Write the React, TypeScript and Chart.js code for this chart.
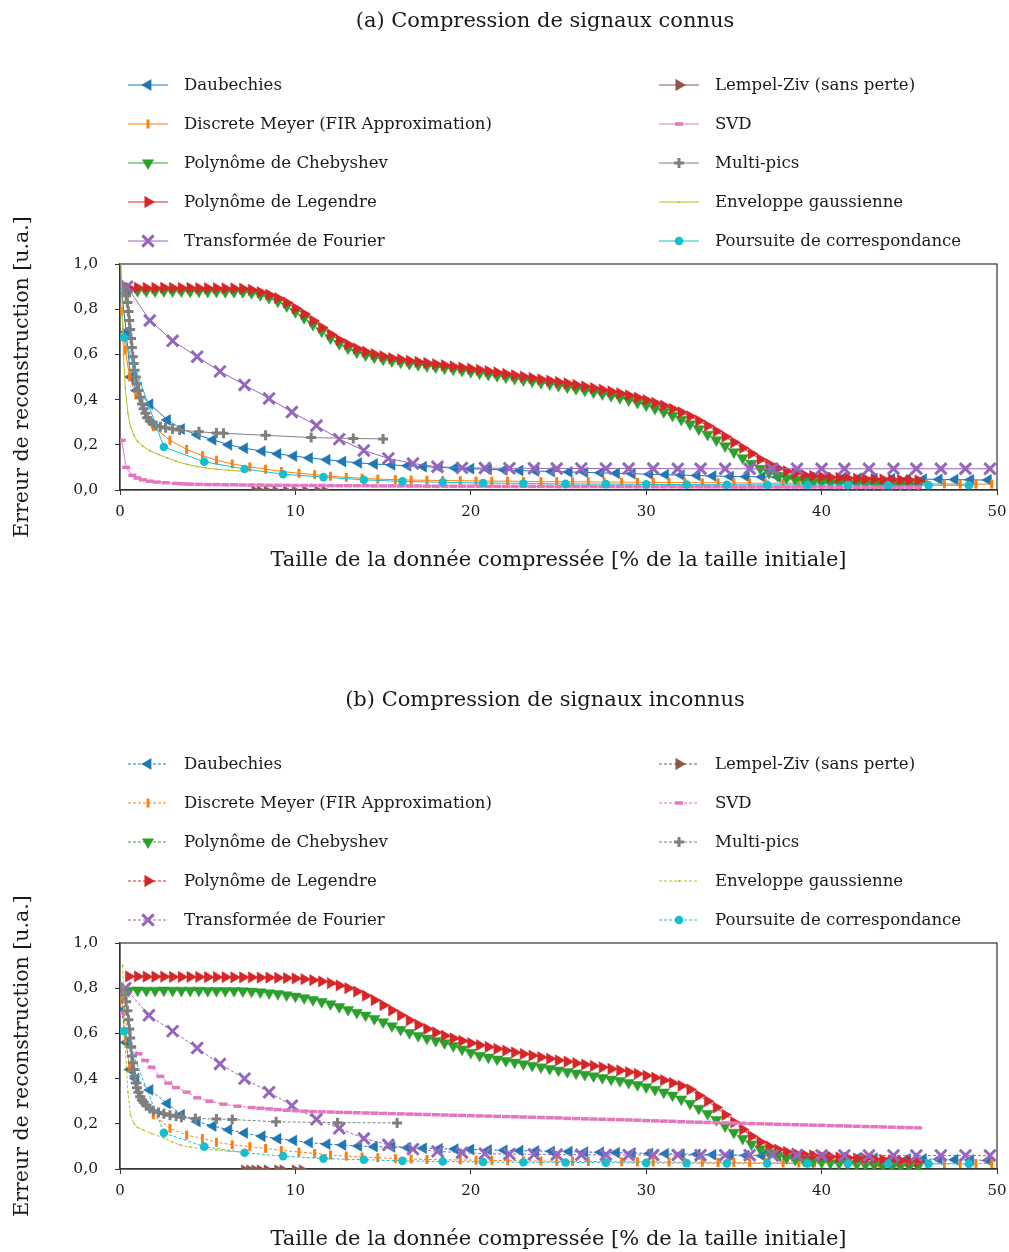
import React, { useEffect, useRef } from 'react';
import { Chart, registerables } from 'chart.js';
import { drawPoint } from 'chart.js/helpers';

Chart.register(...registerables);
Chart.defaults.font.family = '"DejaVu Serif", serif';

type Pt = [number, number];

// ---------- labels ----------
const TITLE_A = '(a) Compression de signaux connus';
const TITLE_B = '(b) Compression de signaux inconnus';
const X_TITLE = 'Taille de la donnée compressée [% de la taille initiale]';
const Y_TITLE = 'Erreur de reconstruction [u.a.]';
const SERIES_LABELS = [
  'Daubechies',
  'Discrete Meyer (FIR Approximation)',
  'Polynôme de Chebyshev',
  'Polynôme de Legendre',
  'Transformée de Fourier',
  'Lempel-Ziv (sans perte)',
  'SVD',
  'Multi-pics',
  'Enveloppe gaussienne',
  'Poursuite de correspondance',
];
const X_MIN = 0;
const X_MAX = 50;
const X_STEP = 10;
const Y_MIN = 0;
const Y_MAX = 1;
const Y_STEP = 0.2;

// sampling grid of the dense series (compression ratio step)
const DENSE_X0 = 0.5;
const DENSE_STEP = 0.5;

// ---------- panel (a) ----------
const daubA: Pt[] = [[0.1,0.88],[0.35,0.7],[0.6,0.5],[0.95,0.44],[1.7,0.38],[2.7,0.31],[3.5,0.27],[4.4,0.245],[5.3,0.222],[6.2,0.2],[7.1,0.185],[8.1,0.172],[9.0,0.16],[9.9,0.15],[10.8,0.142],[11.8,0.134],[12.7,0.126],[13.6,0.12],[14.5,0.115],[15.5,0.111],[16.4,0.107],[17.3,0.103],[18.2,0.1],[19.1,0.097],[20.0,0.094],[21.0,0.091],[21.9,0.089],[22.8,0.086],[23.7,0.084],[24.6,0.082],[25.6,0.08],[26.5,0.078],[27.4,0.076],[28.3,0.074],[29.2,0.072],[30.2,0.07],[31.1,0.068],[32.0,0.066],[32.9,0.064],[33.8,0.062],[34.8,0.06],[35.7,0.059],[36.6,0.058],[37.5,0.057],[38.4,0.056],[39.4,0.055],[40.3,0.054],[41.2,0.053],[42.1,0.052],[43.0,0.051],[44.0,0.05],[44.9,0.049],[45.8,0.048],[46.7,0.047],[47.6,0.046],[48.5,0.045],[49.5,0.044]];
const meyerA: Pt[] = [[0.1,0.79],[0.3,0.62],[0.55,0.5],[0.9,0.42],[1.9,0.28],[2.85,0.22],[3.8,0.18],[4.7,0.152],[5.5,0.132],[6.4,0.115],[7.4,0.102],[8.3,0.092],[9.2,0.082],[10.2,0.074],[11.1,0.068],[12.0,0.061],[12.9,0.056],[13.8,0.052],[14.7,0.048],[15.7,0.046],[16.6,0.044],[17.5,0.043],[18.4,0.042],[19.4,0.041],[20.3,0.04],[21.2,0.039],[22.1,0.039],[23.0,0.038],[24.0,0.037],[24.9,0.037],[25.8,0.036],[26.7,0.036],[27.6,0.035],[28.6,0.035],[29.5,0.034],[30.4,0.034],[31.3,0.033],[32.2,0.033],[33.2,0.032],[34.1,0.032],[35.0,0.031],[35.9,0.031],[36.8,0.03],[37.8,0.03],[38.7,0.03],[39.6,0.029],[40.5,0.029],[41.4,0.029],[42.4,0.028],[43.3,0.028],[44.2,0.028],[45.1,0.027],[46.0,0.027],[47.0,0.027],[47.9,0.026],[48.8,0.026],[49.7,0.026]];
const chebyA: number[] = [0.88,0.882,0.881,0.88,0.881,0.88,0.88,0.879,0.879,0.878,0.878,0.877,0.877,0.876,0.872,0.863,0.851,0.835,0.814,0.789,0.762,0.732,0.702,0.672,0.647,0.627,0.61,0.597,0.587,0.578,0.571,0.565,0.559,0.554,0.549,0.544,0.539,0.534,0.529,0.523,0.517,0.511,0.505,0.499,0.493,0.487,0.481,0.475,0.469,0.462,0.455,0.448,0.441,0.433,0.425,0.417,0.408,0.398,0.387,0.375,0.361,0.346,0.33,0.312,0.292,0.27,0.246,0.221,0.195,0.168,0.142,0.117,0.095,0.077,0.063,0.053,0.046,0.041,0.037,0.034,0.032,0.03,0.028,0.027,0.026,0.025,0.024,0.023,0.022,0.021,0.02];
const legendreA: number[] = [0.894,0.895,0.894,0.894,0.895,0.894,0.894,0.894,0.893,0.893,0.893,0.892,0.892,0.891,0.886,0.876,0.864,0.849,0.829,0.804,0.779,0.749,0.719,0.689,0.664,0.644,0.626,0.612,0.601,0.592,0.584,0.578,0.572,0.567,0.562,0.557,0.552,0.547,0.542,0.537,0.532,0.526,0.52,0.514,0.508,0.502,0.496,0.49,0.484,0.478,0.472,0.465,0.458,0.451,0.444,0.436,0.428,0.419,0.409,0.398,0.386,0.373,0.359,0.344,0.326,0.306,0.284,0.26,0.236,0.211,0.186,0.161,0.136,0.114,0.096,0.083,0.074,0.067,0.062,0.059,0.056,0.054,0.052,0.05,0.049,0.048,0.047,0.046,0.045,0.044,0.043];
const fourierA: Pt[] = [[0.4,0.9],[1.7,0.75],[3.0,0.66],[4.4,0.59],[5.7,0.525],[7.1,0.465],[8.5,0.405],[9.8,0.345],[11.2,0.285],[12.5,0.225],[13.9,0.175],[15.3,0.14],[16.7,0.117],[18.1,0.103],[19.5,0.098],[20.8,0.097],[22.2,0.096],[23.6,0.096],[24.9,0.095],[26.3,0.095],[27.7,0.095],[29.0,0.095],[30.4,0.095],[31.8,0.094],[33.1,0.094],[34.5,0.094],[35.9,0.094],[37.2,0.094],[38.6,0.094],[40.0,0.094],[41.3,0.094],[42.7,0.094],[44.1,0.094],[45.4,0.094],[46.8,0.094],[48.2,0.094],[49.6,0.094]];
const lzA: Pt[] = [[7.7,-0.006],[8.0,-0.006],[8.4,-0.006],[8.9,-0.006],[9.5,-0.006],[10.0,-0.006],[10.6,-0.006],[11.3,-0.006],[11.7,-0.006]];
const svdHeadA: Pt[] = [[0.1,0.22],[0.35,0.1],[0.7,0.065],[1.0,0.053],[1.3,0.045],[1.7,0.039],[2.1,0.035],[2.6,0.032],[3.2,0.029],[3.6,0.027]];
const svdTailA: number[] = [0.026,0.025,0.024,0.024,0.023,0.023,0.022,0.022,0.022,0.021,0.021,0.021,0.02,0.02,0.02,0.02,0.019,0.019,0.019,0.019,0.019,0.018,0.018,0.018,0.018,0.018,0.018,0.017,0.017,0.017,0.017,0.017,0.017,0.017,0.016,0.016,0.016,0.016,0.016,0.016,0.016,0.016,0.015,0.015,0.015,0.015,0.015,0.015,0.015,0.015,0.015,0.014,0.014,0.014,0.014,0.014,0.014,0.014,0.014,0.014,0.014,0.014,0.013,0.013,0.013,0.013,0.013,0.013,0.013,0.013,0.013,0.013,0.013,0.012,0.012,0.012,0.012,0.012,0.012,0.012,0.012,0.012,0.012,0.012];
const SVD_TAIL_A_X0 = 4.0;
const multiA: Pt[] = [[0.15,0.9],[0.25,0.88],[0.35,0.86],[0.42,0.83],[0.48,0.79],[0.53,0.75],[0.58,0.71],[0.63,0.67],[0.68,0.63],[0.73,0.59],[0.78,0.56],[0.83,0.53],[0.9,0.5],[0.97,0.47],[1.05,0.44],[1.15,0.41],[1.25,0.38],[1.35,0.36],[1.45,0.34],[1.55,0.32],[1.7,0.305],[1.85,0.295],[2.05,0.285],[2.3,0.28],[2.6,0.275],[3.0,0.27],[3.4,0.265],[4.5,0.258],[5.5,0.252],[5.9,0.251],[8.3,0.242],[10.9,0.232],[13.3,0.228],[15.0,0.226]];
const gaussA: Pt[] = [[0.05,1.05],[0.12,0.8],[0.2,0.6],[0.3,0.45],[0.45,0.34],[0.6,0.28],[0.8,0.24],[1.0,0.215],[1.3,0.194],[1.7,0.174],[2.2,0.157],[2.7,0.142],[3.2,0.127],[3.8,0.114],[4.4,0.104],[4.9,0.097],[5.5,0.092],[6.2,0.087],[7.0,0.083]];
const mpA: Pt[] = [[0.23,0.675],[2.5,0.19],[4.8,0.125],[7.1,0.093],[9.3,0.07],[11.6,0.057],[13.9,0.045],[16.1,0.038],[18.4,0.034],[20.7,0.031],[23.0,0.029],[25.4,0.027],[27.7,0.026],[30.0,0.025],[32.3,0.024],[34.6,0.023],[36.9,0.023],[39.2,0.022],[41.5,0.022],[43.8,0.021],[46.1,0.021],[48.4,0.021]];

// ---------- panel (b) ----------
const daubB: Pt[] = [[0.1,0.7],[0.35,0.56],[0.57,0.44],[0.9,0.4],[1.7,0.35],[2.7,0.29],[3.5,0.24],[4.4,0.21],[5.3,0.19],[6.2,0.174],[7.1,0.159],[8.1,0.145],[9.0,0.134],[9.9,0.126],[10.8,0.117],[11.8,0.11],[12.7,0.106],[13.6,0.102],[14.5,0.099],[15.5,0.097],[16.4,0.094],[17.3,0.092],[18.2,0.09],[19.1,0.088],[20.0,0.086],[21.0,0.084],[21.9,0.083],[22.8,0.081],[23.7,0.08],[24.6,0.078],[25.6,0.077],[26.5,0.075],[27.4,0.074],[28.3,0.072],[29.2,0.071],[30.2,0.069],[31.1,0.068],[32.0,0.066],[32.9,0.065],[33.8,0.063],[34.8,0.062],[35.7,0.06],[36.6,0.059],[37.5,0.057],[38.4,0.056],[39.4,0.054],[40.3,0.053],[41.2,0.051],[42.1,0.05],[43.0,0.048],[44.0,0.047],[44.9,0.045],[45.8,0.044],[46.7,0.043],[47.6,0.041],[48.5,0.04],[49.5,0.038]];
const meyerB: Pt[] = [[0.1,0.75],[0.3,0.58],[0.55,0.45],[0.95,0.36],[1.9,0.24],[2.85,0.18],[3.8,0.15],[4.7,0.135],[5.5,0.118],[6.4,0.107],[7.4,0.099],[8.3,0.091],[9.2,0.082],[10.2,0.075],[11.1,0.069],[12.0,0.062],[12.9,0.057],[13.8,0.053],[14.7,0.05],[15.7,0.046],[16.6,0.044],[17.5,0.042],[18.4,0.041],[19.4,0.04],[20.3,0.039],[21.2,0.038],[22.1,0.037],[23.0,0.036],[24.0,0.035],[24.9,0.034],[25.8,0.034],[26.7,0.033],[27.6,0.033],[28.6,0.032],[29.5,0.032],[30.4,0.031],[31.3,0.031],[32.2,0.03],[33.2,0.03],[34.1,0.029],[35.0,0.029],[35.9,0.028],[36.8,0.028],[37.8,0.027],[38.7,0.027],[39.6,0.027],[40.5,0.026],[41.4,0.026],[42.4,0.026],[43.3,0.025],[44.2,0.025],[45.1,0.025],[46.0,0.024],[47.0,0.024],[47.9,0.024],[48.8,0.024],[49.7,0.024]];
const chebyB: number[] = [0.79,0.791,0.79,0.79,0.791,0.79,0.79,0.79,0.79,0.789,0.789,0.789,0.789,0.788,0.786,0.783,0.779,0.775,0.77,0.764,0.757,0.749,0.74,0.73,0.718,0.705,0.692,0.68,0.665,0.65,0.633,0.617,0.603,0.59,0.578,0.568,0.558,0.545,0.53,0.515,0.502,0.494,0.486,0.479,0.472,0.465,0.458,0.451,0.444,0.437,0.43,0.424,0.418,0.411,0.404,0.397,0.39,0.382,0.373,0.363,0.352,0.34,0.326,0.309,0.29,0.268,0.244,0.218,0.19,0.162,0.135,0.11,0.089,0.072,0.059,0.049,0.042,0.037,0.033,0.03,0.027,0.025,0.023,0.021,0.019,0.017,0.016,0.015,0.014,0.013,0.012];
const legendreB: number[] = [0.852,0.852,0.851,0.851,0.851,0.85,0.85,0.85,0.85,0.849,0.849,0.849,0.848,0.848,0.848,0.847,0.847,0.846,0.845,0.843,0.84,0.836,0.83,0.822,0.812,0.8,0.785,0.767,0.747,0.725,0.702,0.68,0.658,0.638,0.62,0.604,0.59,0.578,0.567,0.557,0.548,0.54,0.532,0.524,0.516,0.509,0.502,0.495,0.488,0.481,0.475,0.468,0.462,0.456,0.45,0.443,0.436,0.429,0.421,0.413,0.404,0.393,0.381,0.368,0.352,0.325,0.3,0.272,0.24,0.207,0.175,0.145,0.12,0.1,0.086,0.076,0.069,0.064,0.06,0.057,0.054,0.051,0.049,0.047,0.045,0.043,0.041,0.039,0.037,0.035,0.033];
const fourierB: Pt[] = [[0.3,0.8],[1.65,0.68],[3.0,0.61],[4.4,0.535],[5.7,0.465],[7.1,0.4],[8.5,0.34],[9.8,0.28],[11.2,0.22],[12.5,0.18],[13.9,0.135],[15.3,0.107],[16.7,0.088],[18.1,0.078],[19.5,0.072],[20.8,0.068],[22.2,0.066],[23.6,0.065],[24.9,0.064],[26.3,0.063],[27.7,0.063],[29.0,0.062],[30.4,0.062],[31.8,0.062],[33.1,0.061],[34.5,0.061],[35.9,0.061],[37.2,0.061],[38.6,0.061],[40.0,0.06],[41.3,0.06],[42.7,0.06],[44.1,0.06],[45.4,0.06],[46.8,0.06],[48.2,0.06],[49.6,0.06]];
const lzB: Pt[] = [[7.1,-0.006],[7.4,-0.006],[7.7,-0.006],[8.0,-0.006],[8.4,-0.006],[9.0,-0.006],[9.3,-0.006],[10.0,-0.006],[10.4,-0.006]];
const svdHeadB: Pt[] = [[0.2,0.69],[0.45,0.61],[0.7,0.54],[1.05,0.51],[1.43,0.48],[1.8,0.45],[2.3,0.41],[2.75,0.38],[3.2,0.36],[3.8,0.34],[4.4,0.315],[5.1,0.3],[5.9,0.287],[6.7,0.278]];
const svdTailB: number[] = [0.272,0.269,0.266,0.263,0.26,0.258,0.256,0.254,0.253,0.252,0.251,0.25,0.249,0.248,0.247,0.246,0.245,0.244,0.243,0.242,0.241,0.24,0.239,0.238,0.237,0.236,0.235,0.234,0.233,0.232,0.231,0.23,0.229,0.228,0.227,0.226,0.224,0.223,0.222,0.221,0.22,0.219,0.218,0.217,0.216,0.214,0.213,0.212,0.211,0.209,0.208,0.207,0.206,0.205,0.204,0.203,0.202,0.201,0.2,0.199,0.198,0.197,0.196,0.195,0.194,0.193,0.192,0.191,0.19,0.189,0.188,0.187,0.186,0.185,0.184,0.183,0.182];
const SVD_TAIL_B_X0 = 7.5;
const multiB: Pt[] = [[0.15,0.8],[0.25,0.77],[0.35,0.74],[0.42,0.7],[0.48,0.66],[0.53,0.62],[0.58,0.58],[0.63,0.54],[0.68,0.5],[0.73,0.47],[0.78,0.44],[0.83,0.41],[0.9,0.38],[0.97,0.36],[1.05,0.34],[1.15,0.32],[1.25,0.305],[1.35,0.295],[1.5,0.28],[1.7,0.268],[1.9,0.258],[2.2,0.25],[2.5,0.244],[2.85,0.238],[3.2,0.233],[3.5,0.229],[4.3,0.224],[5.5,0.221],[6.4,0.219],[8.9,0.209],[12.4,0.205],[15.8,0.204]];
const gaussB: Pt[] = [[0.15,0.9],[0.22,0.71],[0.3,0.54],[0.45,0.34],[0.6,0.24],[0.8,0.2],[1.0,0.184],[1.3,0.174],[1.8,0.157],[2.5,0.137],[3.0,0.119],[3.4,0.107],[4.0,0.097],[4.7,0.089],[5.5,0.083],[6.2,0.079],[7.0,0.075]];
const mpB: Pt[] = [[0.23,0.61],[2.5,0.16],[4.8,0.099],[7.1,0.072],[9.3,0.057],[11.6,0.046],[13.9,0.041],[16.1,0.036],[18.4,0.033],[20.7,0.031],[23.0,0.03],[25.4,0.029],[27.7,0.028],[30.0,0.027],[32.3,0.026],[34.6,0.025],[36.9,0.025],[39.2,0.024],[41.5,0.024],[43.8,0.023],[46.1,0.023],[48.4,0.022]];

const onGrid = (x0: number, step: number, ys: number[]): Pt[] =>
  ys.map((y, i) => [Math.round((x0 + i * step) * 100) / 100, y] as Pt);

const SERIES_A: Pt[][] = [
  daubA, meyerA, onGrid(DENSE_X0, DENSE_STEP, chebyA), onGrid(DENSE_X0, DENSE_STEP, legendreA), fourierA,
  lzA, [...svdHeadA, ...onGrid(SVD_TAIL_A_X0, DENSE_STEP, svdTailA)], multiA, gaussA, mpA,
];
const SERIES_B: Pt[][] = [
  daubB, meyerB, onGrid(DENSE_X0, DENSE_STEP, chebyB), onGrid(DENSE_X0, DENSE_STEP, legendreB), fourierB,
  lzB, [...svdHeadB, ...onGrid(SVD_TAIL_B_X0, DENSE_STEP, svdTailB)], multiB, gaussB, mpB,
];

// ---------- styles ----------
const STYLES = [
  { color: '#1f77b4', style: 'triangle', rot: -90, r: 6.3, bw: 0.5 },
  { color: '#ff7f0e', style: 'line', rot: 90, r: 4.5, bw: 3 },
  { color: '#2ca02c', style: 'triangle', rot: 180, r: 6.5, bw: 0.5 },
  { color: '#d62728', style: 'triangle', rot: 90, r: 6.5, bw: 0.5 },
  { color: '#9467bd', style: 'crossRot', rot: 0, r: 8, bw: 3 },
  { color: '#8c564b', style: 'triangle', rot: 90, r: 6.5, bw: 0.5 },
  { color: '#e377c2', style: 'line', rot: 0, r: 4, bw: 3.5 },
  { color: '#7f7f7f', style: 'cross', rot: 0, r: 5, bw: 3 },
  { color: '#bcbd22', style: 'circle', rot: 0, r: 1, bw: 0 },
  { color: '#17becf', style: 'circle', rot: 0, r: 4.3, bw: 0 },
];

const FONT = '"DejaVu Serif", serif';
const TEXT = '#1a1a1a';
const AXIS = '#333333';

const overlayPlugin = {
  id: 'overlay',
  beforeDatasetsDraw(chart: any) {
    const { ctx, chartArea: a } = chart;
    ctx.save();
    ctx.strokeStyle = AXIS;
    ctx.lineWidth = 1.2;
    ctx.strokeRect(a.left, a.top, a.right - a.left, a.bottom - a.top);
    ctx.restore();
  },
  afterDraw(chart: any, _args: any, opts: any) {
    const ctx = chart.ctx;
    ctx.save();
    ctx.fillStyle = TEXT;
    ctx.font = `21px ${FONT}`;
    ctx.textAlign = 'center';
    ctx.textBaseline = 'middle';
    ctx.fillText(opts.title, 545, 22);
    ctx.font = `16.6px ${FONT}`;
    ctx.textAlign = 'left';
    chart.data.datasets.forEach((ds: any, i: number) => {
      const col = Math.floor(i / 5);
      const row = i % 5;
      const x0 = col === 0 ? 128 : 659;
      const y = 85 + row * 39;
      ctx.strokeStyle = ds.borderColor;
      ctx.lineWidth = ds.borderWidth;
      ctx.setLineDash(ds.borderDash || []);
      ctx.beginPath();
      ctx.moveTo(x0, y);
      ctx.lineTo(x0 + 40, y);
      ctx.stroke();
      ctx.setLineDash([]);
      ctx.fillStyle = ds.pointBackgroundColor;
      ctx.strokeStyle = ds.pointBorderColor;
      ctx.lineWidth = ds.pointBorderWidth;
      drawPoint(ctx, {
        pointStyle: ds.pointStyle,
        rotation: ds.pointRotation,
        radius: ds.pointRadius,
        borderWidth: ds.pointBorderWidth,
      } as any, x0 + 20, y);
      ctx.fillStyle = TEXT;
      ctx.fillText(ds.label, x0 + 56, y + 1);
    });
    ctx.restore();
  },
};

function buildDatasets(series: Pt[][], dashed: boolean) {
  return series.map((pts, i) => {
    const s = STYLES[i];
    return {
      label: SERIES_LABELS[i],
      data: pts.map(([x, y]) => ({ x, y })),
      borderColor: s.color,
      backgroundColor: s.color,
      borderWidth: 1,
      borderDash: dashed ? [3, 2] : [],
      pointStyle: s.style,
      pointRotation: s.rot,
      pointRadius: s.r,
      pointHoverRadius: s.r,
      pointBorderWidth: s.bw,
      pointBackgroundColor: s.color,
      pointBorderColor: s.color,
      tension: 0,
      order: series.length - i,
    };
  });
}

function Panel({ series, dashed, title, height, padBottom }: { series: Pt[][]; dashed: boolean; title: string; height: number; padBottom: number }) {
  const ref = useRef<HTMLCanvasElement>(null);
  useEffect(() => {
    const chart = new Chart(ref.current as HTMLCanvasElement, {
      type: 'line',
      data: { datasets: buildDatasets(series, dashed) as any },
      plugins: [overlayPlugin as any],
      options: {
        animation: false,
        responsive: false,
        maintainAspectRatio: false,
        devicePixelRatio: 1,
        events: [],
        layout: { padding: { top: 264, left: 10, right: 12, bottom: padBottom } },
        plugins: {
          legend: { display: false },
          tooltip: { enabled: false },
          title: { display: false },
          overlay: { title },
        } as any,
        scales: {
          x: {
            type: 'linear',
            min: X_MIN,
            max: X_MAX,
            ticks: { stepSize: X_STEP, padding: 8, color: TEXT, font: { size: 15, family: FONT }, maxRotation: 0, autoSkip: false },
            grid: { display: true, drawOnChartArea: false, drawTicks: true, tickLength: 5, color: AXIS, lineWidth: 1 },
            border: { display: true, color: AXIS, width: 1.2 },
            title: { display: true, text: X_TITLE, color: TEXT, font: { size: 21, family: FONT }, padding: { top: 0, bottom: 0 } },
            afterFit: (s: any) => { s.height = 83; s.paddingLeft = 0; s.paddingRight = 0; },
          },
          y: {
            type: 'linear',
            min: Y_MIN,
            max: Y_MAX,
            ticks: {
              stepSize: Y_STEP,
              padding: 17,
              color: TEXT,
              font: { size: 15.5, family: FONT },
              callback: (v: any) => (Math.round(Number(v) * 10) / 10).toFixed(1).replace('.', ','),
            },
            grid: { display: true, drawOnChartArea: false, drawTicks: true, tickLength: 5, color: AXIS, lineWidth: 1 },
            border: { display: true, color: AXIS, width: 1.2 },
            title: { display: true, text: Y_TITLE, color: TEXT, font: { size: 20.5, family: FONT }, padding: { top: 0, bottom: 0 } },
            afterFit: (s: any) => { s.width = 110; },
          },
        } as any,
      },
    });
    return () => chart.destroy();
  }, []);
  return <canvas ref={ref} width={1009} height={height} style={{ display: 'block', width: 1009, height }} />;
}

export default function App() {
  return (
    <div style={{ position: 'absolute', left: 0, top: 0, width: 1009, height: 1252, background: '#ffffff' }}>
      <Panel series={SERIES_A} dashed={false} title={TITLE_A} height={679} padBottom={106} />
      <Panel series={SERIES_B} dashed={true} title={TITLE_B} height={573} padBottom={0} />
    </div>
  );
}
